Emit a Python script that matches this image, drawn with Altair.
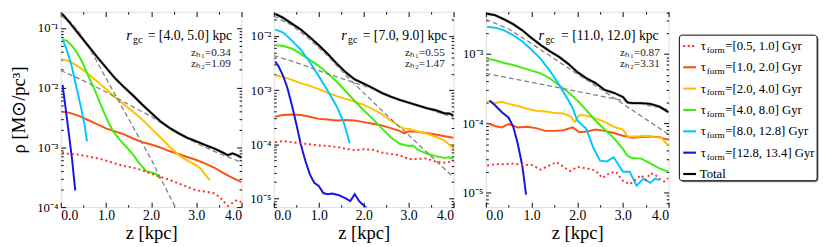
import altair as alt
import pandas as pd

FONT = "Liberation Serif"

# ---------------- data: (z [kpc], log10 rho [Msun/pc^3]) ----------------
SERIES = ["t0510", "t1020", "t2040", "t4080", "t80128", "t128134", "total"]
COLORS = ["#ff2b2b", "#ff5014", "#ffc000", "#3fee0c", "#00c8ff", "#1414e6", "#000000"]
LEGEND_RANGES = ["[0.5, 1.0]", "[1.0, 2.0]", "[2.0, 4.0]", "[4.0, 8.0]", "[8.0, 12.8]", "[12.8, 13.4]"]

PANEL_RGC = ["= [4.0, 5.0] kpc", "= [7.0, 9.0] kpc", "= [11.0, 12.0] kpc"]
PANEL_ZH1 = ["0.34", "0.55", "0.87"]
PANEL_ZH2 = ["1.09", "1.47", "3.31"]
PANEL_LOG_DOMAIN = [(-4.0, -0.725), (-5.16, -1.55), (-5.21, -2.39)]

# panel 1: r_gc = [4, 5] kpc
P1_T0510 = [(0.03, -3.09), (0.2, -3.11), (0.4, -3.12), (0.6, -3.15), (0.8, -3.18), (1.0, -3.22), (1.2, -3.27),
            (1.4, -3.31), (1.6, -3.34), (1.8, -3.38), (2.0, -3.44), (2.2, -3.49), (2.4, -3.54), (2.6, -3.60),
            (2.8, -3.66), (3.0, -3.72), (3.2, -3.74), (3.4, -3.77), (3.5, -3.82), (3.6, -3.90), (3.7, -3.98),
            (3.8, -3.93), (3.9, -3.88), (4.0, -3.92)]
P1_T1020 = [(0.03, -2.40), (0.2, -2.42), (0.4, -2.47), (0.6, -2.54), (0.8, -2.61), (1.0, -2.68), (1.2, -2.73),
            (1.4, -2.78), (1.6, -2.85), (1.8, -2.91), (2.0, -2.95), (2.2, -3.00), (2.4, -3.06), (2.6, -3.11),
            (2.8, -3.16), (3.0, -3.21), (3.2, -3.27), (3.4, -3.34), (3.6, -3.43), (3.8, -3.51), (4.0, -3.58)]
P1_T2040 = [(0.03, -1.52), (0.2, -1.56), (0.4, -1.65), (0.6, -1.76), (0.8, -1.89), (1.0, -2.02), (1.2, -2.16),
            (1.4, -2.28), (1.6, -2.40), (1.8, -2.53), (2.0, -2.68), (2.2, -2.83), (2.4, -2.98), (2.6, -3.12),
            (2.8, -3.22), (3.0, -3.30), (3.1, -3.36), (3.2, -3.46), (3.3, -3.55)]
P1_T4080 = [(0.05, -1.19), (0.15, -1.22), (0.25, -1.30), (0.35, -1.40), (0.45, -1.53), (0.55, -1.70),
            (0.65, -1.87), (0.75, -2.03), (0.85, -2.22), (0.95, -2.40), (1.05, -2.57), (1.15, -2.72),
            (1.3, -2.87), (1.45, -2.99), (1.6, -3.12), (1.75, -3.28), (1.9, -3.40), (2.0, -3.42),
            (2.1, -3.44), (2.2, -3.52)]
P1_T80128 = [(0.04, -1.19), (0.13, -1.36), (0.24, -1.63), (0.35, -2.00), (0.46, -2.37), (0.53, -2.64),
             (0.58, -2.90)]
P1_T128134 = [(0.04, -1.95), (0.1, -2.30), (0.17, -2.72), (0.25, -3.20), (0.32, -3.72)]
P1_TOTAL = [(0.03, -0.76), (0.2, -0.91), (0.4, -1.10), (0.6, -1.29), (0.8, -1.48), (1.0, -1.66), (1.2, -1.84),
            (1.4, -1.99), (1.6, -2.13), (1.8, -2.28), (2.0, -2.42), (2.2, -2.56), (2.4, -2.67), (2.6, -2.76),
            (2.8, -2.84), (3.0, -2.90), (3.2, -2.96), (3.4, -3.02), (3.6, -3.09), (3.7, -3.13), (3.8, -3.10),
            (3.9, -3.13), (4.0, -3.17)]
P1_FIT_THIN = [(0.0, -0.80), (0.2, -0.88), (0.4, -1.06), (0.6, -1.30), (0.8, -1.56), (1.0, -1.84), (1.2, -2.11),
               (1.5, -2.52), (2.0, -3.20), (2.52, -3.98), (2.6, -4.09)]
P1_FIT_THICK = [(0.0, -1.71), (0.5, -1.88), (1.0, -2.07), (1.5, -2.28), (2.0, -2.48), (2.5, -2.73), (3.0, -2.93),
                (3.5, -3.10), (4.0, -3.25)]

# panel 2: r_gc = [7, 9] kpc
P2_T0510 = [(0.03, -3.96), (0.2, -3.94), (0.4, -3.96), (0.6, -3.98), (0.8, -4.00), (1.0, -4.02), (1.2, -4.03),
            (1.4, -4.05), (1.6, -4.08), (1.8, -4.11), (2.0, -4.09), (2.2, -4.10), (2.4, -4.15), (2.6, -4.18),
            (2.8, -4.20), (3.0, -4.27), (3.2, -4.27), (3.4, -4.26), (3.6, -4.32), (3.8, -4.34), (4.0, -4.31)]
P2_T1020 = [(0.03, -3.49), (0.2, -3.46), (0.4, -3.45), (0.6, -3.46), (0.8, -3.49), (1.0, -3.53), (1.2, -3.54),
            (1.4, -3.56), (1.6, -3.55), (1.8, -3.56), (2.0, -3.59), (2.2, -3.62), (2.4, -3.65), (2.6, -3.70),
            (2.8, -3.75), (2.9, -3.80), (3.0, -3.76), (3.2, -3.77), (3.4, -3.79), (3.6, -3.82), (3.8, -3.85),
            (4.0, -3.88)]
P2_T2040 = [(0.03, -2.73), (0.2, -2.75), (0.4, -2.81), (0.6, -2.87), (0.8, -2.92), (1.0, -2.98), (1.2, -3.05),
            (1.4, -3.11), (1.6, -3.16), (1.8, -3.21), (2.0, -3.27), (2.2, -3.35), (2.4, -3.44), (2.6, -3.56),
            (2.8, -3.67), (2.9, -3.71), (3.0, -3.71), (3.2, -3.76), (3.4, -3.80), (3.6, -3.86), (3.8, -3.93),
            (4.0, -4.08)]
P2_T4080 = [(0.03, -2.17), (0.2, -2.18), (0.4, -2.23), (0.6, -2.33), (0.8, -2.44), (1.0, -2.55), (1.2, -2.69),
            (1.4, -2.84), (1.6, -3.02), (1.8, -3.20), (2.0, -3.37), (2.2, -3.53), (2.4, -3.70), (2.6, -3.87),
            (2.8, -3.99), (3.0, -4.03), (3.1, -4.02), (3.2, -4.10), (3.4, -4.17), (3.6, -4.22), (3.8, -4.25),
            (3.9, -4.24), (4.0, -4.27)]
P2_T80128 = [(0.03, -1.88), (0.2, -1.93), (0.4, -2.08), (0.6, -2.25), (0.8, -2.48), (1.0, -2.74), (1.2, -3.01),
             (1.4, -3.30), (1.55, -3.58), (1.69, -3.98)]
P2_T128134 = [(0.03, -2.47), (0.1, -2.55), (0.2, -2.72), (0.3, -2.95), (0.4, -3.27), (0.5, -3.62), (0.6, -4.00),
              (0.7, -4.30), (0.8, -4.55), (0.9, -4.71), (1.0, -4.77), (1.1, -4.90), (1.2, -4.92), (1.3, -4.91),
              (1.45, -4.94), (1.6, -5.00), (1.7, -5.05), (1.8, -4.92), (1.9, -5.05), (2.0, -5.13), (2.1, -5.20)]
P2_TOTAL = [(0.03, -1.59), (0.2, -1.66), (0.4, -1.77), (0.6, -1.88), (0.8, -2.02), (1.0, -2.17), (1.2, -2.33),
            (1.4, -2.51), (1.6, -2.67), (1.8, -2.80), (2.0, -2.88), (2.2, -2.96), (2.4, -3.05), (2.6, -3.12),
            (2.8, -3.18), (3.0, -3.23), (3.2, -3.28), (3.4, -3.33), (3.6, -3.37), (3.8, -3.43), (3.9, -3.43),
            (4.0, -3.47)]
P2_FIT_THIN = [(0.0, -1.63), (0.4, -1.80), (0.8, -2.06), (1.2, -2.37), (1.6, -2.72), (2.0, -3.05), (2.5, -3.45),
               (3.0, -3.83), (3.5, -4.22), (4.0, -4.61)]
P2_FIT_THICK = [(0.0, -2.36), (0.5, -2.49), (1.0, -2.64), (1.5, -2.78), (2.0, -2.92), (2.5, -3.07), (3.0, -3.24),
                (3.5, -3.37), (4.0, -3.50)]

# panel 3: r_gc = [11, 12] kpc
P3_T0510 = [(0.03, -4.61), (0.2, -4.59), (0.4, -4.59), (0.6, -4.58), (0.8, -4.60), (1.0, -4.60), (1.2, -4.67),
            (1.35, -4.62), (1.55, -4.56), (1.7, -4.63), (1.85, -4.69), (2.0, -4.63), (2.2, -4.65), (2.4, -4.68),
            (2.55, -4.79), (2.7, -4.72), (2.85, -4.70), (3.0, -4.83), (3.15, -4.88), (3.3, -4.80), (3.4, -4.75),
            (3.5, -4.82), (3.6, -4.72), (3.7, -4.74), (3.8, -4.80), (3.9, -4.84), (4.0, -4.79)]
P3_T1020 = [(0.03, -4.00), (0.2, -4.04), (0.35, -4.06), (0.5, -4.01), (0.7, -4.06), (0.9, -4.05), (1.1, -4.07),
            (1.3, -4.11), (1.5, -4.11), (1.7, -4.10), (1.9, -4.06), (2.05, -4.13), (2.2, -4.12), (2.4, -4.09),
            (2.6, -4.11), (2.8, -4.14), (3.0, -4.18), (3.2, -4.21), (3.4, -4.20), (3.6, -4.19), (3.8, -4.20),
            (4.0, -4.24)]
P3_T2040 = [(0.03, -3.68), (0.2, -3.71), (0.35, -3.69), (0.5, -3.72), (0.7, -3.75), (0.9, -3.79), (1.1, -3.82),
            (1.3, -3.83), (1.5, -3.85), (1.7, -3.86), (1.85, -3.90), (1.95, -3.98), (2.05, -3.88), (2.2, -3.89),
            (2.4, -3.93), (2.6, -3.98), (2.8, -4.05), (3.0, -4.09), (3.1, -4.19), (3.3, -4.19), (3.5, -4.18),
            (3.7, -4.20), (3.85, -4.21), (4.0, -4.33)]
P3_T4080 = [(0.03, -3.07), (0.2, -3.09), (0.4, -3.13), (0.6, -3.16), (0.8, -3.20), (1.0, -3.24), (1.2, -3.28),
            (1.4, -3.35), (1.6, -3.45), (1.8, -3.55), (2.0, -3.67), (2.2, -3.81), (2.4, -3.96), (2.6, -4.09),
            (2.8, -4.21), (3.0, -4.37), (3.1, -4.47), (3.2, -4.50), (3.4, -4.51), (3.6, -4.58), (3.8, -4.65),
            (4.0, -4.70)]
P3_T80128 = [(0.03, -2.61), (0.2, -2.62), (0.4, -2.66), (0.6, -2.73), (0.8, -2.82), (1.0, -2.94), (1.2, -3.07),
             (1.4, -3.24), (1.6, -3.44), (1.8, -3.66), (1.9, -3.78), (2.0, -3.96), (2.2, -4.08), (2.35, -4.35),
             (2.5, -4.54), (2.65, -4.55), (2.8, -4.49), (3.0, -4.70), (3.15, -4.70), (3.3, -4.90), (3.45, -4.80),
             (3.6, -4.86), (3.7, -4.80), (3.8, -4.82)]
P3_T128134 = [(0.08, -3.67), (0.2, -3.74), (0.35, -3.84), (0.5, -3.92), (0.6, -4.05), (0.7, -4.30), (0.8, -4.62),
              (0.88, -5.03)]
P3_TOTAL = [(0.03, -2.42), (0.2, -2.44), (0.4, -2.50), (0.6, -2.57), (0.8, -2.66), (1.0, -2.77), (1.2, -2.87),
            (1.4, -2.96), (1.6, -3.04), (1.8, -3.14), (2.0, -3.26), (2.2, -3.35), (2.4, -3.42), (2.6, -3.52),
            (2.8, -3.56), (3.0, -3.62), (3.1, -3.70), (3.2, -3.71), (3.4, -3.71), (3.6, -3.72), (3.8, -3.76),
            (3.9, -3.80), (4.0, -3.84)]
P3_FIT_THIN = [(0.0, -2.50), (0.5, -2.64), (1.0, -2.85), (1.5, -3.07), (2.0, -3.29), (2.5, -3.50), (3.0, -3.72),
               (3.5, -3.94), (4.0, -4.16)]
P3_FIT_THICK = [(0.0, -3.28), (1.0, -3.41), (2.0, -3.54), (3.0, -3.67), (4.0, -3.80)]

PANEL_SERIES = [
    [P1_T0510, P1_T1020, P1_T2040, P1_T4080, P1_T80128, P1_T128134, P1_TOTAL],
    [P2_T0510, P2_T1020, P2_T2040, P2_T4080, P2_T80128, P2_T128134, P2_TOTAL],
    [P3_T0510, P3_T1020, P3_T2040, P3_T4080, P3_T80128, P3_T128134, P3_TOTAL],
]
PANEL_FITS = [(P1_FIT_THIN, P1_FIT_THICK), (P2_FIT_THIN, P2_FIT_THICK), (P3_FIT_THIN, P3_FIT_THICK)]

# ---------------- layout (pixels) ----------------
PANEL_W = [185, 184, 187]
PANEL_H = 200
TEXT_X = [(67, 74, 89, 174), (69, 76, 91, 175), (54, 61, 77, 178)]
SPACING = 6
LEG_OFF = 4


def rows(points, panel, series, idx):
    return [{"panel": panel, "series": series, "sidx": idx, "z": z, "rho": 10.0 ** lg} for z, lg in points]


color_scale = alt.Scale(domain=SERIES, range=COLORS)

SUP = "['\u2070','\u207b\u00b9','\u207b\u00b2','\u207b\u00b3','\u207b\u2074','\u207b\u2075','\u207b\u2076']"
LABEL_EXPR = "'10' + " + SUP + "[round(-log(datum.value)/LN10)]"


def majors(lo, hi):
    return [10.0 ** d for d in range(-7, 1) if lo - 1e-9 <= d <= hi + 1e-9]


def minors(lo, hi):
    out = []
    for d in range(-7, 1):
        for k in range(2, 10):
            v = k * 10.0 ** d
            if 10 ** lo <= v <= 10 ** hi:
                out.append(v)
    return out


def tick_axis(orient, values, size):
    return alt.Axis(orient=orient, values=values, labels=False, domain=False, grid=False, ticks=True,
                    tickSize=size, offset=-size, tickColor="black", tickWidth=1, title=None)


def text_layer(txt, x, y, size, align="left", style="normal", color="black"):
    return alt.Chart(pd.DataFrame({"t": [txt]})).mark_text(
        align=align, baseline="alphabetic", font=FONT, fontSize=size, fontStyle=style, color=color
    ).encode(x=alt.value(x), y=alt.value(y), text="t:N")


def panel(p):
    lo, hi = PANEL_LOG_DOMAIN[p]
    recs = []
    for i, (s, pts) in enumerate(zip(SERIES, PANEL_SERIES[p])):
        recs += rows(pts, p, s, i)
    df = pd.DataFrame(recs)
    fit_recs = rows(PANEL_FITS[p][0], p, "thin", 0) + rows(PANEL_FITS[p][1], p, "thick", 1)
    dfit = pd.DataFrame(fit_recs)

    xs = alt.Scale(domain=[0, 4], nice=False, zero=False)
    ys = alt.Scale(type="log", domain=[10 ** lo, 10 ** hi], nice=False)

    def enc(xaxis=None, yaxis=None):
        return dict(x=alt.X("z:Q", scale=xs, axis=xaxis), y=alt.Y("rho:Q", scale=ys, axis=yaxis))

    tot = df[df.series == "total"]
    colored = df[(df.series != "total") & (df.series != "t0510")]
    red = df[df.series == "t0510"]

    ytitle = "\u03c1 [M\u2299/pc\u00b3]" if p == 0 else None
    x_lab = alt.Axis(orient="bottom", values=[0, 1, 2, 3, 4], format=".1f", ticks=False, domain=False, grid=False,
                     labelFont=FONT, labelFontSize=14, labelPadding=2, labelColor="black",
                     title="z [kpc]", titleFont=FONT, titleFontSize=19, titleFontWeight="normal",
                     titlePadding=1, titleColor="black")
    y_lab = alt.Axis(orient="left", values=majors(lo, hi), labelExpr=LABEL_EXPR, ticks=False, domain=False,
                     grid=False, labelFont=FONT, labelFontSize=13, labelPadding=3, labelColor="black",
                     title=ytitle, titleFont=FONT, titleFontSize=19, titleFontWeight="normal",
                     titlePadding=9, titleColor="black")

    ghost = alt.Chart(tot).mark_line(opacity=0)
    axis_layers = [
        ghost.encode(**enc(x_lab, y_lab)),
        ghost.encode(**enc(tick_axis("bottom", [0, 1, 2, 3, 4], 5), tick_axis("left", majors(lo, hi), 5))),
        ghost.encode(**enc(tick_axis("top", [0, 1, 2, 3, 4], 5), tick_axis("right", majors(lo, hi), 5))),
        ghost.encode(**enc(tick_axis("bottom", [0.5, 1.5, 2.5, 3.5], 2.5), tick_axis("left", minors(lo, hi), 2.5))),
        ghost.encode(**enc(tick_axis("top", [0.5, 1.5, 2.5, 3.5], 2.5), tick_axis("right", minors(lo, hi), 2.5))),
    ]

    lines = alt.Chart(colored).mark_line(strokeWidth=2, clip=True).encode(
        **enc(), color=alt.Color("series:N", scale=color_scale, legend=None), detail="series:N",
        order="z:Q")
    dotted = alt.Chart(red).mark_line(strokeWidth=2, strokeDash=[2, 3], clip=True, color=COLORS[0]).encode(
        **enc(), order="z:Q")
    fits = alt.Chart(dfit).mark_line(strokeWidth=1.3, strokeDash=[5, 3], clip=True, color="#808080").encode(
        **enc(), detail="series:N", order="z:Q")
    halo = alt.Chart(tot).mark_line(strokeWidth=3.0, clip=True, color="#b4b4b4").encode(**enc(), order="z:Q")
    black = alt.Chart(tot).mark_line(strokeWidth=1.9, clip=True, color="black").encode(**enc(), order="z:Q")

    rx, gx, ex, zx = TEXT_X[p]
    texts = [
        text_layer("r", rx, 29, 15, style="italic"),
        text_layer("gc", gx, 32, 10),
        text_layer(PANEL_RGC[p], ex, 29, 14),
        text_layer("z\u2095\u2081=" + PANEL_ZH1[p], zx, 45, 11.5, align="right", color="#222"),
        text_layer("z\u2095\u2082=" + PANEL_ZH2[p], zx, 57, 11.5, align="right", color="#222"),
    ]

    ch = alt.layer(*axis_layers, lines, dotted, fits, halo, black, *texts).resolve_axis(
        x="independent", y="independent").properties(width=PANEL_W[p], height=PANEL_H)
    return ch


# ---------------- legend panel ----------------
leg_rows = []
for i, s in enumerate(SERIES):
    leg_rows.append({"idx": i, "series": s,
                     "rng": ("=" + LEGEND_RANGES[i] + " Gyr") if i < 6 else "",
                     "tau": "\u03c4" if i < 6 else "",
                     "form": "form" if i < 6 else "",
                     "total": "Total" if i == 6 else ""})
leg_df = pd.DataFrame(leg_rows)
leg_y = alt.Scale(domain=[-1.602, 7.551], reverse=True)
LY = alt.Y("idx:Q", scale=leg_y, axis=None)

box_shadow = alt.Chart(pd.DataFrame({"a": [0]})).mark_rect(fill="#555555", cornerRadius=3, opacity=0.7).encode(
    x=alt.value(LEG_OFF + 1.5), x2=alt.value(LEG_OFF + 142.5), y=alt.value(25.5), y2=alt.value(174.5))
box = alt.Chart(pd.DataFrame({"a": [0]})).mark_rect(fill="white", stroke="black", strokeWidth=1,
                                                   cornerRadius=3).encode(
    x=alt.value(LEG_OFF), x2=alt.value(LEG_OFF + 141), y=alt.value(24), y2=alt.value(173))
sw_solid = alt.Chart(leg_df[leg_df.idx > 0]).mark_rule(strokeWidth=2.2).encode(
    x=alt.value(LEG_OFF + 4), x2=alt.value(LEG_OFF + 17), y=LY,
    color=alt.Color("series:N", scale=color_scale, legend=None))
sw_dot = alt.Chart(leg_df[leg_df.idx == 0]).mark_rule(strokeWidth=2, strokeDash=[2, 2.5], color=COLORS[0]).encode(
    x=alt.value(LEG_OFF + 4), x2=alt.value(LEG_OFF + 17), y=LY)
t_tau = alt.Chart(leg_df).mark_text(align="left", baseline="middle", font=FONT, fontSize=13).encode(
    x=alt.value(LEG_OFF + 22), y=LY, text="tau:N")
t_form = alt.Chart(leg_df).mark_text(align="left", baseline="middle", font=FONT, fontSize=9.5, dy=4).encode(
    x=alt.value(LEG_OFF + 28), y=LY, text="form:N")
t_rng = alt.Chart(leg_df).mark_text(align="left", baseline="middle", font=FONT, fontSize=13).encode(
    x=alt.value(LEG_OFF + 47), y=LY, text="rng:N")
t_tot = alt.Chart(leg_df).mark_text(align="left", baseline="middle", font=FONT, fontSize=13).encode(
    x=alt.value(LEG_OFF + 21), y=LY, text="total:N")

legend = alt.layer(box_shadow, box, sw_solid, sw_dot, t_tau, t_form, t_rng, t_tot).properties(
    width=150, height=PANEL_H, view=alt.ViewBackground(strokeOpacity=0))

chart = alt.hconcat(panel(0), panel(1), panel(2), legend, spacing=SPACING).properties(
    padding={"left": 0, "top": 0, "right": 0, "bottom": 0}
).configure_view(stroke="black", strokeWidth=1.2).configure(font=FONT)

chart.save("out.html", embed_options={"renderer": "svg", "actions": False})
